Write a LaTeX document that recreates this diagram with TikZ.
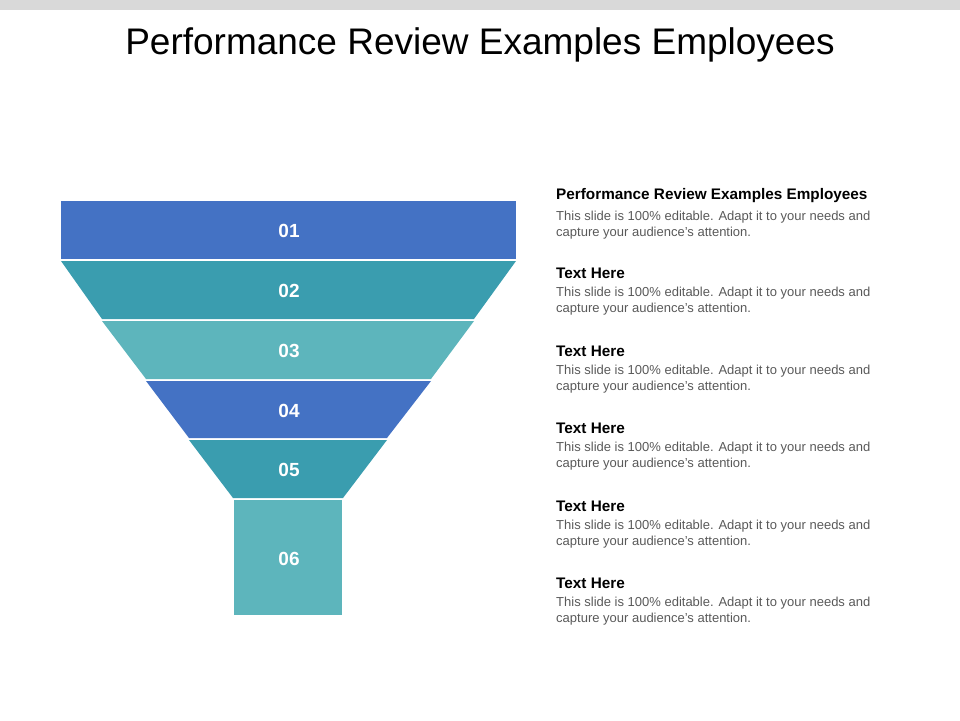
\documentclass[tikz,border=0pt]{standalone}
\usepackage{fontspec}
\setmainfont{Liberation Sans}
\usepackage{xcolor}
\usetikzlibrary{positioning, calc}
\definecolor{fblue}{HTML}{4472C4}
\definecolor{fteal}{HTML}{3A9DAF}
\definecolor{flight}{HTML}{5DB5BC}

\begin{document}
\begin{tikzpicture}[x=1pt, y=-1pt,
    band/.style={fill=#1, draw=none},
    num/.style={font=\fontsize{19}{22}\selectfont\bfseries, text=white},
    head/.style={anchor=west, font=\fontsize{15.3}{17}\selectfont\bfseries, inner sep=0pt},
    body/.style={font=\fontsize{13}{16}\selectfont, text=black!65,
        align=left, inner sep=0pt}
]
\useasboundingbox (0,0) rectangle (960,720);
\fill[black!15] (0,0) rectangle (960,10);

% Title
\node[font=\fontsize{37}{42}\selectfont] (title) at (480,45) {Performance Review Examples Employees};

% Funnel bands
\fill[band=fblue] (61,201) rectangle (516,259);
\fill[band=fteal] (61,261) -- (516,261) -- (474,319) -- (102,319) -- cycle;
\fill[band=flight] (102,321) -- (474,321) -- (431,379) -- (146,379) -- cycle;
\fill[band=fblue] (146,381) -- (431,381) -- (387,438) -- (189,438) -- cycle;
\fill[band=fteal] (189,440) -- (387,440) -- (343,498) -- (233,498) -- cycle;
\fill[band=flight] (234,500) rectangle (342,615);

% Band numbers
\foreach \n/\y in {01/231, 02/291, 03/351, 04/411, 05/470, 06/559}
  \node[num] (n\n) at (289,\y) {\n};

% Text column
\foreach \i/\y/\t in {1/196/Performance Review Examples Employees, 2/273/Text Here,
    3/351/Text Here, 4/428/Text Here, 5/506/Text Here, 6/583/Text Here} {
  \node[head] (h\i) at (556,\y) {\t};
  \node[body, below=8pt of h\i.south west, anchor=north west] (b\i)
    {This slide is 100\% editable. Adapt it to your needs and\\capture your audience's attention.};
}
\end{tikzpicture}
\end{document}
